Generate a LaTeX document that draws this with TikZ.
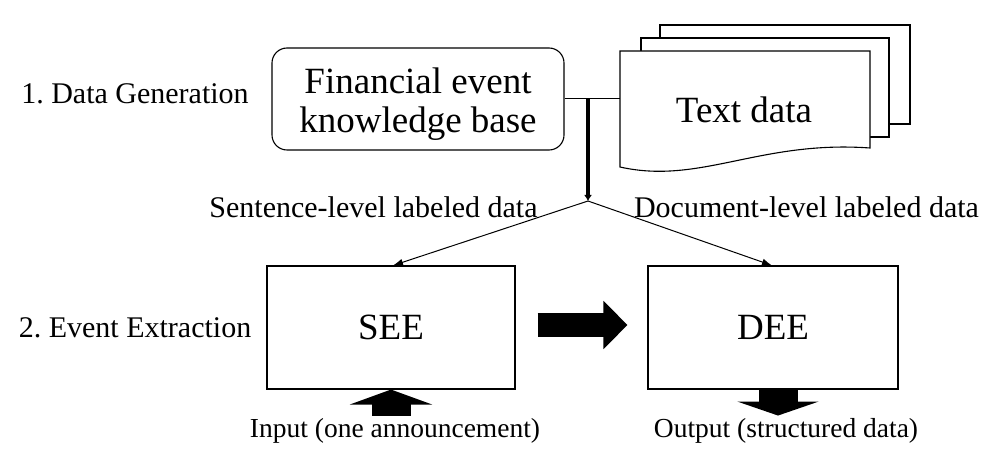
\documentclass[tikz,border=0pt]{standalone}
\usepackage{fontspec}
\setmainfont{Liberation Serif}
\usetikzlibrary{arrows.meta,calc}
\tikzset{
  bigfont/.style={font=\fontsize{37}{39}\selectfont},
  lbl/.style={font=\fontsize{30}{32}\selectfont, inner sep=0pt},
  smalllbl/.style={font=\fontsize{27.5}{30}\selectfont, inner sep=0pt},
  boxline/.style={draw, line width=1.1pt},
  stagebox/.style={boxline, inner sep=0pt, bigfont, minimum height=123pt},
  kbbox/.style={boxline, rounded corners=15pt, inner sep=0pt, minimum width=292pt, minimum height=102pt},
  docshape/.style={boxline, fill=white},
  thinarrow/.style={line width=1pt, -{Latex[length=10pt,width=7pt]}},
  thickarrow/.style={line width=3.2pt, -{Latex[length=6pt,width=8pt]}},
}
\frenchspacing
\begin{document}
\begin{tikzpicture}[x=1pt,y=-1pt]
\useasboundingbox (0,0) rectangle (994,454);

% left stage labels
\node[lbl] (gen) at (135,94) {1. Data Generation};
\node[lbl] (ext) at (135,327.5) {2. Event Extraction};

% knowledge base
\node[kbbox] (kb) at (418,99) {};
\node[bigfont, inner sep=0pt, align=center] (kbt) at (418,104) {Financial event\\knowledge base};

% stacked text documents
\draw[docshape] (660,25) rectangle (910,124);
\draw[docshape] (641,38) rectangle (889,137);
\draw[docshape] (620,51) -- (870,51) -- (870,148)
   .. controls (760,140) and (700,185) .. (620,167) -- cycle;
\node[bigfont, inner sep=0pt] (txt) at (744,110) {Text data};
\coordinate (docw) at (620,99);

% merge line and downward arrow
\coordinate (split) at (588,99);
\coordinate (fork) at (588,201);
\draw[line width=1pt] (kb.east) -- (docw);
\draw[thickarrow] (split) -- (fork);

% labels of the branches
\node[lbl] (sl) at (373.5,207.5) {Sentence-level labeled data};
\node[lbl] (dl) at (806.5,207) {Document-level labeled data};

% extraction stages
\node[stagebox, minimum width=248pt] (see) at (391,327.5) {SEE};
\node[stagebox, minimum width=250pt] (dee) at (773,327.5) {DEE};

\draw[thinarrow] (fork) -- ($(see.north)+(2,0)$);
\draw[thinarrow] (fork) -- ($(dee.north)+(-1,0)$);

% fat arrow SEE -> DEE
\draw[line width=24pt, -{Triangle[length=24pt,width=47pt]}]
   ($(see.east)+(22,-2.5)$) -- ($(dee.west)+(-20,-2.5)$);

% input and output
\node[smalllbl, anchor=base] (inp) at (395,438) {Input (one announcement)};
\node[smalllbl, anchor=base] (outp) at (786,438) {Output (structured data)};
\draw[line width=39pt, -{Triangle[length=15pt,width=82pt]}]
   ($(see.south)+(0,26)$) -- (see.south);
\draw[line width=39pt, -{Triangle[length=14pt,width=81pt]}]
   ($(dee.south)+(5,0)$) -- ($(dee.south)+(5,26)$);
\end{tikzpicture}
\end{document}
